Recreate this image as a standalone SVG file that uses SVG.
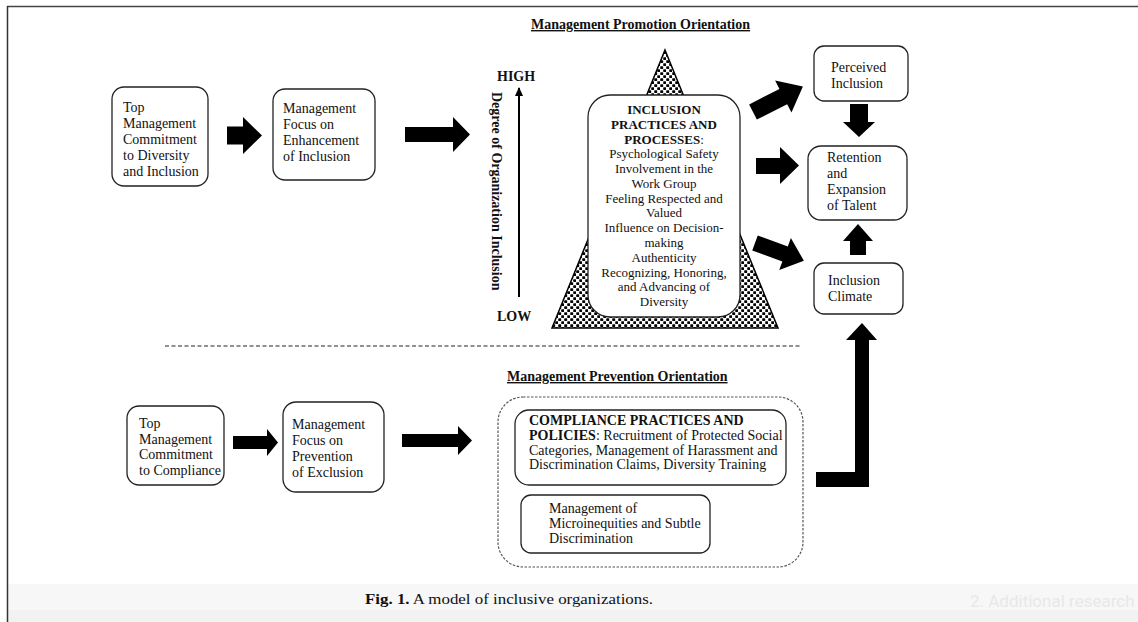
<svg xmlns="http://www.w3.org/2000/svg" width="1138" height="622" viewBox="0 0 1138 622">
  <style>
    .t { font-family: "Liberation Serif", "Times New Roman", serif; font-size: 14px; fill: #111; }
    .s13 { font-size: 13px; }
    .b { font-weight: bold; }
    .mid { text-anchor: middle; }
    .box { fill: #fff; stroke: #222; stroke-width: 1.3; }
    .blk { fill: #000; }
    .head { text-decoration: underline; }
  </style>
  <defs>
    <pattern id="stipple" width="6" height="6" patternUnits="userSpaceOnUse">
      <rect width="6" height="6" fill="#fff"/>
      <rect x="0.2" y="0.3" width="3" height="2.6" rx="0.6" fill="#000"/>
      <rect x="3.2" y="3.3" width="3" height="2.6" rx="0.6" fill="#000"/>
    </pattern>
    <marker id="tip" markerWidth="10" markerHeight="10" refX="8" refY="5" orient="auto" markerUnits="userSpaceOnUse">
      <path d="M0,1 L9,5 L0,9 Z" fill="#000"/>
    </marker>
  </defs>

  <!-- page frame and caption strip -->
  <rect x="0" y="0" width="1138" height="622" fill="#fff"/>
  <rect x="8" y="584" width="1130" height="38" fill="#f7f7f7"/>
  <rect x="8" y="610" width="1130" height="12" fill="#f2f2f2"/>
  <line x1="7" y1="6.5" x2="1138" y2="6.5" stroke="#444" stroke-width="1.5"/>
  <line x1="7.5" y1="6" x2="7.5" y2="622" stroke="#333" stroke-width="1.5"/>

  <!-- section headings -->
  <text class="t b head" x="531" y="29">Management Promotion Orientation</text>
  <text class="t b head" x="507" y="381">Management Prevention Orientation</text>

  <!-- inclusion scale -->
  <g id="scale">
    <text class="t b" x="497" y="81">HIGH</text>
    <text class="t b" x="497" y="321">LOW</text>
    <line x1="519" y1="297" x2="519" y2="88" stroke="#000" stroke-width="2" marker-end="url(#tip)"/>
    <text class="t b" transform="translate(492,92) rotate(90)">Degree of Organization Inclusion</text>
  </g>

  <!-- promotion side -->
  <g id="topCommitment">
    <rect class="box" x="112" y="87" width="96" height="99" rx="12"/>
    <text class="t" x="123" y="112">Top</text>
    <text class="t" x="123" y="128">Management</text>
    <text class="t" x="123" y="144">Commitment</text>
    <text class="t" x="123" y="160">to Diversity</text>
    <text class="t" x="123" y="176">and Inclusion</text>
  </g>
  <g id="focusEnhancement">
    <rect class="box" x="273" y="89" width="102" height="91" rx="12"/>
    <text class="t" x="283" y="113">Management</text>
    <text class="t" x="283" y="129">Focus on</text>
    <text class="t" x="283" y="145">Enhancement</text>
    <text class="t" x="283" y="161">of Inclusion</text>
  </g>
  <g id="inclusionPractices">
    <path d="M665,50 L778,328 L552,328 Z" fill="url(#stipple)" stroke="#000" stroke-width="1.5"/>
    <rect class="box" x="588" y="95" width="152" height="222" rx="22"/>
    <text class="t s13 b mid" x="664" y="114">INCLUSION</text>
    <text class="t s13 b mid" x="664" y="128.8">PRACTICES AND</text>
    <text class="t s13 mid" x="664" y="143.5"><tspan class="b">PROCESSES</tspan>:</text>
    <text class="t s13 mid" x="664" y="158.3">Psychological Safety</text>
    <text class="t s13 mid" x="664" y="173">Involvement in the</text>
    <text class="t s13 mid" x="664" y="187.9">Work Group</text>
    <text class="t s13 mid" x="664" y="202.6">Feeling Respected and</text>
    <text class="t s13 mid" x="664" y="217.4">Valued</text>
    <text class="t s13 mid" x="664" y="232.2">Influence on Decision-</text>
    <text class="t s13 mid" x="664" y="246.9">making</text>
    <text class="t s13 mid" x="664" y="261.7">Authenticity</text>
    <text class="t s13 mid" x="664" y="276.5">Recognizing, Honoring,</text>
    <text class="t s13 mid" x="664" y="291.2">and Advancing of</text>
    <text class="t s13 mid" x="664" y="306">Diversity</text>
  </g>
  <g id="perceivedInclusion">
    <rect class="box" x="814" y="46" width="94" height="55" rx="10"/>
    <text class="t" x="831" y="72">Perceived</text>
    <text class="t" x="831" y="87.5">Inclusion</text>
  </g>
  <g id="retention">
    <rect class="box" x="808" y="146" width="99" height="74" rx="13"/>
    <text class="t" x="827" y="162">Retention</text>
    <text class="t" x="827" y="178">and</text>
    <text class="t" x="827" y="194">Expansion</text>
    <text class="t" x="827" y="210">of Talent</text>
  </g>
  <g id="inclusionClimate">
    <rect class="box" x="814" y="263" width="89" height="51" rx="10"/>
    <text class="t" x="828" y="285">Inclusion</text>
    <text class="t" x="828" y="301">Climate</text>
  </g>

  <!-- prevention side -->
  <g id="topCompliance">
    <rect class="box" x="127" y="406" width="97" height="79" rx="12"/>
    <text class="t" x="139" y="428">Top</text>
    <text class="t" x="139" y="443.5">Management</text>
    <text class="t" x="139" y="459">Commitment</text>
    <text class="t" x="139" y="475">to Compliance</text>
  </g>
  <g id="focusPrevention">
    <rect class="box" x="283" y="402" width="101" height="90" rx="13"/>
    <text class="t" x="292" y="429">Management</text>
    <text class="t" x="292" y="445">Focus on</text>
    <text class="t" x="292" y="461">Prevention</text>
    <text class="t" x="292" y="477">of Exclusion</text>
  </g>
  <g id="compliancePractices">
    <rect x="498" y="397" width="305" height="170" rx="25" fill="none" stroke="#555" stroke-width="1.2" stroke-dasharray="2.5 1.5"/>
    <rect class="box" x="515" y="410" width="271" height="75" rx="14"/>
    <text class="t b" x="529" y="425">COMPLIANCE PRACTICES AND</text>
    <text class="t" x="529" y="440"><tspan class="b">POLICIES</tspan>: Recruitment of Protected Social</text>
    <text class="t" x="529" y="455">Categories, Management of Harassment and</text>
    <text class="t" x="529" y="469">Discrimination Claims, Diversity Training</text>
    <rect class="box" x="521" y="495" width="189" height="58" rx="10"/>
    <text class="t" x="549" y="513">Management of</text>
    <text class="t" x="549" y="528">Microinequities and Subtle</text>
    <text class="t" x="549" y="543">Discrimination</text>
  </g>

  <!-- connectors -->
  <g id="connectors">
    <line x1="165" y1="346" x2="801" y2="346" stroke="#222" stroke-width="1.2" stroke-dasharray="4 2.5"/>
    <path class="blk" d="M227,126.5 H243 V117 L262,135.5 L243,154 V144.5 H227 Z"/>
    <path class="blk" d="M405,127 H453 V117 L470,134.5 L453,152 V142 H405 Z"/>
    <path class="blk" transform="translate(753,112) rotate(-27)" d="M0,-8.5 H34 V-18 L56,0 L34,18 V8.5 H0 Z"/>
    <path class="blk" d="M756,158 H780 V147 L799,165.5 L780,184 V174 H756 Z"/>
    <path class="blk" transform="translate(755,243) rotate(20)" d="M0,-8 H32 V-17 L52,0 L32,17 V8 H0 Z"/>
    <path class="blk" d="M850,104 H868 V122 H875 L859,137 L843,122 H850 Z"/>
    <path class="blk" d="M850,255 V241 H843 L858,224 L873,241 H866 V255 Z"/>
    <path class="blk" d="M233,436 H267 V429 L278,442.5 L267,456 V449 H233 Z"/>
    <path class="blk" d="M402,434 H458 V426 L472,440.5 L458,455 V447 H402 Z"/>
    <path class="blk" d="M816,472 H855 V340 H846 L862,323 L877,340 H869 V487 H816 Z"/>
  </g>

  <!-- caption -->
  <text class="t" x="365" y="604" font-size="16" textLength="288" lengthAdjust="spacingAndGlyphs"><tspan class="b">Fig. 1.</tspan> A model of inclusive organizations.</text>
  <text x="970" y="607" font-family="Roboto, 'Liberation Sans', sans-serif" font-size="17" fill="#e8e8e8">2. Additional research</text>
</svg>
